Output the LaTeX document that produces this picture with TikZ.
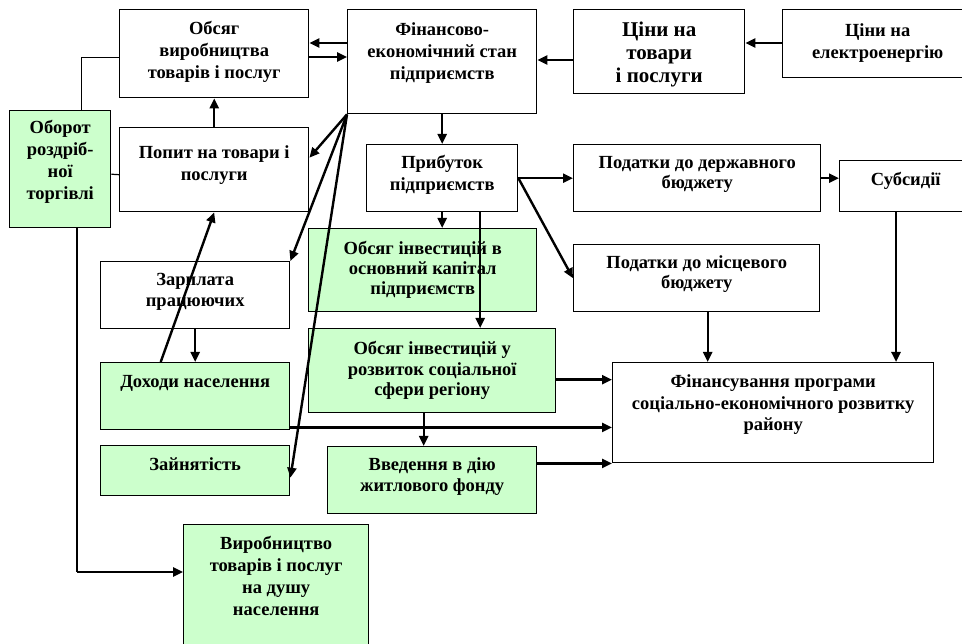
\documentclass[tikz,border=0pt]{standalone}
\usepackage{fontspec}
\setmainfont{Liberation Serif}
\usetikzlibrary{arrows.meta}
\definecolor{lgreen}{RGB}{204,255,204}
\newcommand{\tb}[4][25]{\parbox[c][#3pt][t]{#2pt}{\centering\rule{0pt}{#1pt}#4\par}}

\begin{document}
\begin{tikzpicture}[x=1pt,y=-1pt,
   box/.style={draw,shape=rectangle,line width=1.4pt,inner sep=0pt,anchor=north west},
   gbox/.style={box,fill=lgreen},
   arr/.style={line width=2.4pt,-{Triangle[length=10pt,width=9pt]}},
   ln/.style={line width=1.2pt},
   font=\bfseries\fontsize{18.5}{22}\selectfont]
   \useasboundingbox (0,0) rectangle (962,644);
   % top row
   \path (119,9) node[box] (vyrob) {\tb{189}{88}{Обсяг\\виробництва\\товарів і послуг}};
   \path (347,9) node[box] (fin) {\tb[26]{189}{104}{Фінансово-\\економічний стан\\підприємств}};
   \path (573,9) node[box,font=\bfseries\fontsize{21}{23}\selectfont] (tsiny) {\tb[27]{171}{84}{Ціни на\\товари\\ і послуги}};
   \path (782,9) node[box] (elec) {\tb[27]{190}{68}{Ціни на\\електроенергію}};
   % second row
   \path (9,110) node[gbox] (oborot) {\tb[23]{101}{117}{Оборот\\роздріб-\\ної\\торгівлі}};
   \path (119,127) node[box] (popyt) {\tb[31]{189}{84}{Попит на товари і\\послуги}};
   \path (366,144) node[box] (prybutok) {\tb[24]{151}{67}{Прибуток\\підприємств}};
   \path (573,144) node[box,font=\bfseries\fontsize{18.5}{20}\selectfont] (derzh) {\tb[24]{247}{67}{Податки до державного\\бюджету}};
   \path (839,160) node[box] (subsydii) {\tb{132}{51}{Субсидії}};
   % middle
   \path (308,228) node[gbox,font=\bfseries\fontsize{18.5}{20}\selectfont] (invest1) {\tb[26]{228}{83}{Обсяг інвестицій в\\основний капітал\\підприємств}};
   \path (573,244) node[box,font=\bfseries\fontsize{18.5}{20}\selectfont] (mistsevyi) {\tb[24]{246}{67}{Податки до місцевого\\бюджету}};
   \path (100,261) node[box,font=\bfseries\fontsize{18.5}{21}\selectfont] (zarplata) {\tb[24]{189}{67}{Зарплата\\працюючих}};
   \path (308,328) node[gbox,font=\bfseries\fontsize{18.5}{20.5}\selectfont] (invest2) {\tb[26]{247}{84}{Обсяг інвестицій у\\розвиток соціальної\\сфери регіону}};
   \path (100,362) node[gbox] (dokhody) {\tb{189}{67}{Доходи населення}};
   \path (612,362) node[box,font=\bfseries\fontsize{18.5}{21.5}\selectfont] (finans) {\tb{321}{100}{Фінансування програми\\соціально-економічного розвитку\\району}};
   \path (100,445) node[gbox] (zainiatist) {\tb{189}{50}{Зайнятість}};
   \path (327,446) node[gbox,font=\bfseries\fontsize{18.5}{21}\selectfont] (vvedennia) {\tb[24]{209}{67}{Введення в дію\\житлового фонду}};
   \path (183,524) node[gbox] (vyrob2) {\tb{185}{125}{Виробництво\\товарів і послуг\\на душу\\населення}};
   \coordinate (c1) at (77,572);
   % arrows
   \draw[arr] (elec.west |- 0,43) -- (tsiny.east |- 0,43);
   \draw[arr] (tsiny.west |- 0,60) -- (fin.east |- 0,60);
   \draw[arr] (fin.west |- 0,43) -- (vyrob.east |- 0,43);
   \draw[arr] (vyrob.east |- 0,57) -- (fin.west |- 0,57);
   \draw[arr] (fin.south) -- (fin.south |- prybutok.north);
   \draw[arr] (prybutok.east) -- (derzh.west);
   \draw[arr] (derzh.east) -- (derzh.east -| subsydii.west);
   \draw[arr] (prybutok.east) -- (mistsevyi.west);
   \draw[arr] (prybutok.south) -- (prybutok.south |- invest1.north);
   \draw[arr] ([xshift=38pt]prybutok.south) -- ([xshift=38pt]prybutok.south |- invest2.north);
   \draw[arr] (subsydii.south west -| 896,0) -- (finans.north -| 896,0);
   \draw[arr] ([xshift=11pt]mistsevyi.south) -- ([xshift=11pt]mistsevyi.south |- finans.north);
   \draw[arr] ([yshift=-9pt]invest2.east) -- ([yshift=-9pt]invest2.east -| finans.west);
   \draw[arr] ([xshift=-8.5pt]invest2.south) -- ([xshift=-8.5pt]invest2.south |- vvedennia.north);
   \draw[arr] ([yshift=3pt]dokhody.south east) -- ([yshift=3pt]dokhody.south east -| finans.west);
   \draw[arr] (vvedennia.east |- finans.south west) -- (finans.south west);
   \draw[arr] (fin.south west) -- ([yshift=12pt]popyt.east);
   \draw[arr] (fin.south west) -- (zarplata.north east);
   \draw[arr] (fin.south west) -- ([yshift=-7pt]zainiatist.east);
   \draw[arr] (zarplata.south) -- (dokhody.north);
   \draw[arr] ([xshift=-34.5pt]dokhody.north) -- (popyt.south);
   \draw[arr] (popyt.north) -- (vyrob.south);
   \draw[ln] ([xshift=21.5pt]oborot.north) |- ([yshift=-4pt]vyrob.west);
   \draw[ln] ([yshift=-5pt]oborot.east) -- ([yshift=-5pt]popyt.west);
   \draw[ln] (oborot.south -| c1) -- (c1);
   \draw[arr] (c1) -- (c1 -| vyrob2.west);
\end{tikzpicture}
\end{document}
